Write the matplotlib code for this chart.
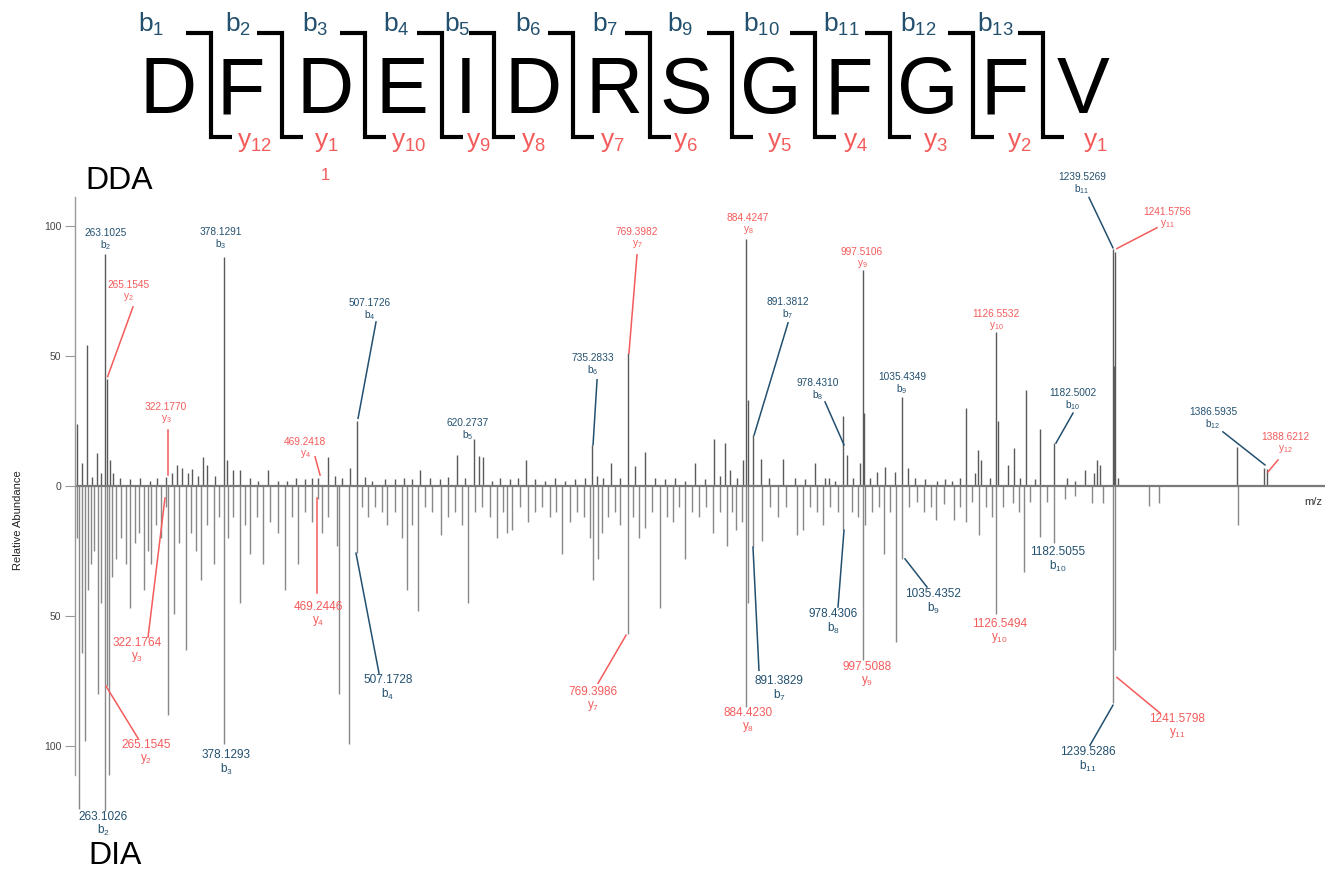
import matplotlib
matplotlib.use('Agg')
import matplotlib.pyplot as plt

plt.rcParams['font.family'] = ['Liberation Sans', 'DejaVu Sans']
plt.rcParams['mathtext.default'] = 'regular'

BLUE = '#23506f'
RED = '#f45b5b'

# %% peptide header -------------------------------------------------------------------------
residues = list('DFDEIDRSGFGFV')
b_ions = ['b$_1$', 'b$_2$', 'b$_3$', 'b$_4$', 'b$_5$', 'b$_6$', 'b$_7$', 'b$_9$',
          'b$_{10}$', 'b$_{11}$', 'b$_{12}$', 'b$_{13}$']
y_ions = ['y$_{12}$', 'y$_1$', 'y$_{10}$', 'y$_9$', 'y$_8$', 'y$_7$', 'y$_6$', 'y$_5$',
          'y$_4$', 'y$_3$', 'y$_2$', 'y$_1$']

# %% spectrum peaks (m/z, relative abundance) ----------------------------------------------
dda_mz = [236.0, 240.8, 245.7, 250.5, 255.3, 259.2, 263.10, 265.15, 267.9, 270.9, 277.6,
          287.3, 297.0, 306.7, 313.5, 322.18, 328.0, 332.9, 337.7, 343.5, 347.4, 353.2,
          358.1, 362.0, 369.7, 378.13, 381.3, 387.1, 393.9, 403.6, 411.3, 421.0, 430.7,
          439.5, 448.2, 456.9, 463.7, 469.24, 479.2, 486.0, 492.7, 500.2, 507.17, 515.0,
          521.8, 534.4, 544.1, 552.8, 560.6, 568.3, 578.0, 587.7, 595.5, 604.2, 611.9,
          620.27, 625.5, 629.4, 638.1, 645.8, 655.5, 663.3, 671.1, 679.8, 689.5, 699.2,
          708.9, 718.6, 728.3, 735.28, 740.0, 745.8, 753.6, 762.3, 769.40, 776.6, 786.3,
          796.0, 805.7, 815.4, 825.1, 834.8, 844.5, 853.2, 859.0, 864.0, 868.7, 875.4,
          881.3, 884.42, 885.8, 891.38, 899.0, 906.8, 919.7, 931.3, 941.0, 950.7, 960.4,
          964.3, 970.1, 978.43, 982.1, 987.9, 994.7, 997.51, 998.6, 1004.4, 1011.2,
          1018.9, 1028.6, 1035.43, 1041.2, 1048.0, 1057.7, 1069.2, 1077.0, 1083.8,
          1091.5, 1097.4, 1106.1, 1109.0, 1112.0, 1120.7, 1126.55, 1128.5, 1138.1,
          1143.9, 1149.8, 1155.6, 1164.3, 1169.1, 1182.50, 1195.3, 1203.0, 1212.7,
          1221.4, 1224.3, 1227.2, 1239.53, 1240.6, 1241.58, 1244.7, 1360.0, 1386.59,
          1388.62]
dda_int = [24, 9, 54, 3.5, 12.7, 5, 89, 41, 10, 5, 3,
           2.5, 3, 2, 3, 3.5, 5, 8, 7, 5, 6.5, 4,
           11, 8, 4, 88, 10, 6, 6, 3, 2, 6, 2,
           2, 3, 2.5, 3, 3, 11, 4, 3, 7, 25, 3.5,
           2, 2.5, 2.5, 3, 2.5, 6, 3, 2.5, 3.5, 12, 3,
           18, 11.5, 11, 2, 3, 2.5, 3, 10, 2.5, 2, 3,
           2, 2.5, 3, 15.7, 4, 3, 9, 3, 51, 7.5, 13,
           3, 2.5, 3, 2, 9, 2.5, 18, 4, 16.5, 6, 3,
           10, 95, 33, 19.6, 10.5, 3, 10.5, 3, 2.5, 9, 3,
           3, 2, 27, 12, 3, 9, 83, 28, 3, 5.5,
           7.4, 5.5, 34, 7, 3, 2.5, 2, 2.5, 2,
           3, 30, 5, 14, 10, 3, 59, 25, 8,
           14.6, 3, 37, 2.5, 22, 16.5, 3, 2, 6,
           5, 10, 8, 91, 46, 90, 3, 15, 7,
           6.5]

dia_mz = [236.0, 238.0, 240.8, 243.7, 246.6, 249.5, 252.4, 256.3, 259.2, 263.10, 265.15,
          267.0, 270.0, 273.8, 278.6, 283.5, 287.3, 292.2, 296.0, 300.9, 304.8, 307.7,
          312.5, 317.4, 322.18, 324.2, 330.0, 334.8, 341.6, 346.5, 351.3, 356.2, 362.0,
          368.8, 373.6, 378.13, 382.3, 387.1, 393.9, 398.8, 403.6, 410.4, 416.2, 423.0,
          430.7, 437.5, 444.3, 450.1, 456.9, 463.7, 469.24, 473.4, 479.2, 488.0, 489.5,
          499.5, 507.17, 512.1, 517.9, 524.7, 531.5, 536.3, 544.1, 550.9, 555.8, 560.6,
          566.4, 573.2, 580.0, 588.7, 595.5, 602.3, 609.1, 614.9, 621.6, 628.4, 636.2,
          643.0, 648.8, 652.6, 657.5, 665.2, 673.0, 679.8, 686.5, 694.3, 700.1, 705.9,
          713.6, 720.4, 727.2, 733.0, 735.9, 740.8, 744.6, 750.5, 757.3, 762.1, 769.40,
          774.7, 780.5, 786.3, 793.1, 800.8, 807.6, 813.4, 819.2, 825.1, 831.9, 838.7,
          845.5, 852.3, 859.0, 865.8, 870.7, 874.6, 880.4, 884.42, 886.4, 891.38, 899.7,
          907.5, 915.2, 923.0, 933.6, 939.5, 946.3, 953.1, 958.9, 965.7, 973.4, 978.43,
          986.9, 992.7, 997.51, 999.5, 1006.3, 1013.1, 1018.0, 1023.8, 1029.6, 1035.43,
          1042.1, 1049.9, 1056.7, 1063.5, 1068.3, 1076.1, 1085.8, 1091.6, 1097.4, 1103.2,
          1110.0, 1116.8, 1122.6, 1126.55, 1133.3, 1143.0, 1148.8, 1153.7, 1159.5,
          1169.2, 1176.0, 1182.50, 1193.4, 1203.1, 1219.6, 1230.2, 1239.53, 1241.58,
          1274.8, 1284.5, 1361.0]
dia_int = [20, 124, 64, 98, 40, 30, 25, 80, 45, 125, 77,
           111, 35, 28, 20, 30, 47, 22, 18, 40, 25, 30,
           15, 20, 8, 88, 49, 22, 63, 18, 25, 36, 15,
           30, 12, 99, 20, 12, 45, 15, 26, 12, 30, 14,
           18, 40, 12, 30, 10, 14, 5, 18, 12, 23, 80,
           99, 25.8, 8, 12, 8, 10, 15, 10, 20, 40, 15,
           48, 8, 10, 19, 12, 10, 15, 45, 10, 8, 12,
           20, 10, 18, 17, 8, 14, 10, 8, 12, 10, 26,
           14, 10, 12, 20, 36, 28, 18, 12, 10, 15, 57,
           12, 20, 16, 10, 47, 12, 14, 8, 28, 10, 12,
           8, 18, 10, 23, 10, 17, 14, 85, 45, 23.5, 21,
           8, 12, 8, 19, 17, 8, 10, 15, 8, 10, 17,
           10, 12, 67, 15, 10, 8, 26, 10, 60, 28,
           8, 6, 10, 8, 13, 7, 13, 8, 14, 6,
           19, 8, 12, 49, 8, 6.5, 10, 33, 6,
           19.5, 6, 22, 5, 4, 6.5, 6.5, 83.5, 63,
           7.5, 6.5, 15]

# annotated fragment ions: value text, ion, colour
dda_labels = [('263.1025', 'b$_2$', BLUE), ('265.1545', 'y$_2$', RED), ('322.1770', 'y$_3$', RED),
              ('378.1291', 'b$_3$', BLUE), ('469.2418', 'y$_4$', RED), ('507.1726', 'b$_4$', BLUE),
              ('620.2737', 'b$_5$', BLUE), ('735.2833', 'b$_6$', BLUE), ('769.3982', 'y$_7$', RED),
              ('884.4247', 'y$_8$', RED), ('891.3812', 'b$_7$', BLUE), ('978.4310', 'b$_8$', BLUE),
              ('997.5106', 'y$_9$', RED), ('1035.4349', 'b$_9$', BLUE), ('1126.5532', 'y$_{10}$', RED),
              ('1182.5002', 'b$_{10}$', BLUE), ('1239.5269', 'b$_{11}$', BLUE),
              ('1241.5756', 'y$_{11}$', RED), ('1386.5935', 'b$_{12}$', BLUE),
              ('1388.6212', 'y$_{12}$', RED)]
dia_labels = [('263.1026', 'b$_2$', BLUE), ('265.1545', 'y$_2$', RED), ('322.1764', 'y$_3$', RED),
              ('378.1293', 'b$_3$', BLUE), ('469.2446', 'y$_4$', RED), ('507.1728', 'b$_4$', BLUE),
              ('769.3986', 'y$_7$', RED), ('884.4230', 'y$_8$', RED), ('891.3829', 'b$_7$', BLUE),
              ('978.4306', 'b$_8$', BLUE), ('997.5088', 'y$_9$', RED), ('1035.4352', 'b$_9$', BLUE),
              ('1126.5494', 'y$_{10}$', RED), ('1182.5055', 'b$_{10}$', BLUE),
              ('1239.5286', 'b$_{11}$', BLUE), ('1241.5798', 'y$_{11}$', RED)]

# label placement (data coords): text centre, leader line start -> end (or None)
dda_place = [((264.1, 97), None), ((285.4, 77.3), (290.2, 68.8, 265.6, 42)),
             ((322.2, 30.4), (324.2, 21.5, 324.2, 4.2)), ((375.5, 97.7), None),
             ((456.9, 16.9), (466.6, 11.2, 471.5, 4.2)), ((519.9, 70.4), (525.7, 63, 508.3, 26)),
             ((614.8, 24.2), None), ((736, 49), (739.9, 40.8, 736, 15.8)),
             ((778.6, 97.7), (778.6, 88.8, 770.8, 51)), ((886.2, 103), None),
             ((925, 70.8), (925, 62.7, 892.1, 19.6)), ((954, 39.6), (960.8, 32.3, 979.2, 15.8)),
             ((996.6, 90), None), ((1035.4, 41.9), None), ((1126.5, 66.2), None),
             ((1201.1, 35.8), (1201.1, 28, 1184.6, 16.5)),
             ((1209.8, 118.8), (1216.6, 110.8, 1239.8, 91.5)),
             ((1292.2, 105.4), (1282.5, 99.2, 1243.6, 91.2)),
             ((1336.7, 28.5), (1346.4, 20.8, 1387.1, 8.1)),
             ((1406.5, 18.8), (1399.7, 10, 1390, 5.4))]
dia_place = [((261.2, -127), None), ((302.8, -99.6), (295.1, -96.9, 264.1, -76.9)),
             ((294.1, -60.4), (304.8, -58, 321.2, -4.6)), ((380.4, -103.5), None),
             ((469.5, -46.5), (468.5, -41.2, 468.5, -4.6)),
             ((537.3, -74.6), (528.6, -71.9, 506.3, -25.8)),
             ((736, -79.2), (740.8, -75.8, 768, -57.3)), ((886.2, -87.3), None),
             ((916.2, -75), (896.8, -70.8, 891, -23.5)),
             ((968.5, -49.2), (973.4, -46.5, 979.2, -17)), ((1001.5, -69.6), None),
             ((1065.4, -41.5), (1059.6, -38.8, 1038.3, -28)), ((1130.3, -53), None),
             ((1186.5, -25.4), None), ((1215.6, -102.3), (1217.5, -99.6, 1239.8, -84.2)),
             ((1302.2, -89.6), (1285.7, -87.3, 1243.6, -73.5))]

# %% figure ----------------------------------------------------------------------------------
fig = plt.figure(figsize=(13.42, 8.71), dpi=100)

# overlay in pixel coordinates for the sequence header and side texts
ov = fig.add_axes([0, 0, 1, 1])
ov.set_xlim(0, 1342)
ov.set_ylim(871, 0)
ov.axis('off')

letter_x = [168, 241, 325, 402, 466, 533, 614, 686, 771, 849, 928, 1005, 1083]
dividers = [211, 282, 365, 442, 494, 573, 650, 732, 815, 890, 973, 1043]
b_left = [138, 225, 302, 383, 444, 515, 592, 667, 743, 823, 900, 977]
y_left = [237, 314, 391, 466, 521, 600, 673, 767, 843, 923, 1007, 1083]
for x, aa in zip(letter_x, residues):
    ov.text(x, 113, aa, fontsize=57, ha='center', va='baseline', color='black')
for d, bl, yl, bi, yi in zip(dividers, b_left, y_left, b_ions, y_ions):
    ov.plot([d - 25, d, d, d + 21], [33, 33, 137, 137], color='black', lw=3,
            solid_joinstyle='miter', solid_capstyle='butt')
    ov.text(bl, 32, bi, fontsize=19, color=BLUE, ha='left', va='baseline')
    ov.text(yl, 147, yi, fontsize=19, color=RED, ha='left', va='baseline')
ov.text(325, 176, '1', fontsize=12, color=RED, ha='center', va='center')

ov.text(85, 181, 'DDA', fontsize=23, ha='left', va='center')
ov.text(88, 856, 'DIA', fontsize=23, ha='left', va='center')
ov.text(18, 520, 'Relative Abundance', fontsize=8, rotation=90, ha='center', va='center',
        color='#222222')

# spectrum axes
ax = fig.add_axes([75 / 1342, 96 / 871, 1250 / 1342, 578 / 871])
ax.patch.set_alpha(0)
ax.vlines(dda_mz, 0, dda_int, color='#5a5a5a', lw=1.0, clip_on=False)
ax.vlines(dia_mz, 0, [-v for v in dia_int], color='#888888', lw=1.0, clip_on=False)
ax.axhline(0, color='#7a7a7a', lw=1.6)
ax.set_xlim(234.0, 1445.3)
ax.set_ylim(-111, 111)
ax.set_xticks([])
ax.set_yticks([-100, -50, 0, 50, 100])
ax.set_yticklabels(['100', '50', '0', '50', '100'])
ax.tick_params(axis='y', length=7, width=0.8, color='#9a9a9a', labelsize=7.5,
               labelcolor='#444444', pad=3)
for s in ['top', 'right', 'bottom']:
    ax.spines[s].set_visible(False)
ax.spines['left'].set_color('#9a9a9a')
ax.spines['left'].set_linewidth(1.0)
ax.text(1443, -6.2, 'm/z', ha='right', va='center', fontsize=8, color='#333333')


def put_labels(labels, places, size, gap):
    for (num, ion, col), ((lx, ly), lead) in zip(labels, places):
        ax.text(lx, ly, num, fontsize=size, color=col, ha='center', va='center')
        ax.annotate(ion, xy=(lx, ly), xytext=(0, -gap), textcoords='offset pixels',
                    fontsize=size, color=col, ha='center', va='center',
                    annotation_clip=False)
        if lead is not None:
            ax.plot([lead[0], lead[2]], [lead[1], lead[3]], color=col, lw=1.1,
                    clip_on=False)


put_labels(dda_labels, dda_place, 7.3, 12)
put_labels(dia_labels, dia_place, 8.5, 14)

fig.savefig('out.png', dpi=100)
